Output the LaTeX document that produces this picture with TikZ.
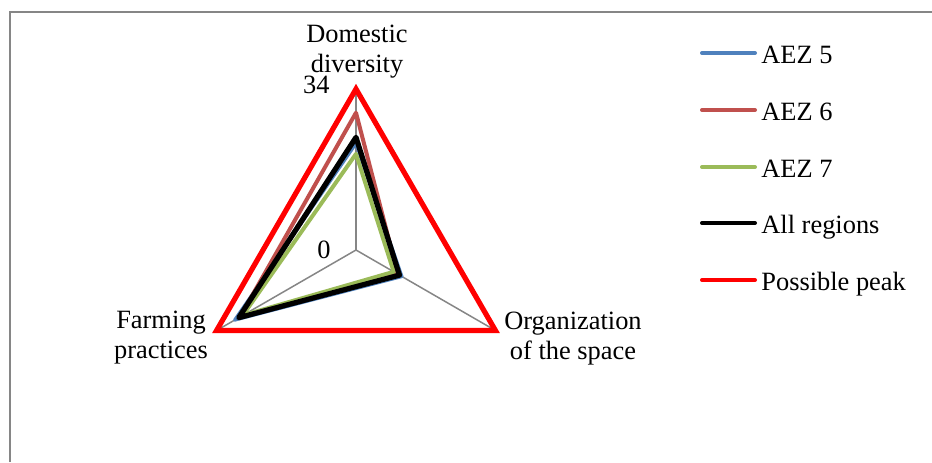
\documentclass[tikz,border=0pt]{standalone}
\usepackage{fontspec}
\setmainfont{Liberation Serif}
\usetikzlibrary{positioning}
\definecolor{aezblue}{HTML}{4F81BD}
\definecolor{aezbrown}{HTML}{C0504D}
\definecolor{aezgreen}{HTML}{9BBB59}
\definecolor{gridgray}{HTML}{868686}

\begin{document}
\begin{tikzpicture}[x=0.5pt,y=-0.5pt]
		\tikzset{lbl/.style={font=\fontsize{13.2}{15}\selectfont,inner sep=0pt,align=center}}
		\tikzset{axisline/.style={draw=gridgray,line width=0.75pt}}
		\tikzset{serie/.style={line width=2pt,line join=round,line cap=round}}
		\tikzset{zoneA/.style={serie,draw=aezblue,line width=1.6pt},
			zoneB/.style={serie,draw=aezbrown},
			zoneC/.style={serie,draw=aezgreen},
			allreg/.style={serie,draw=black,line width=2.6pt},
			peak/.style={serie,draw=red,line width=2.6pt,line join=miter}}
		\useasboundingbox (0,0) rectangle (932,462);
		% frame of the chart area
		\draw[draw=gridgray,line width=1pt] (10,462) -- (10,12) -- (932,12);
		% radar
		\begin{scope}[shift={(356,250)},x=0.5pt,y=0.5pt]
			\def\k{4.735}
			\coordinate (c) at (0,0);
			\coordinate (dom) at (90:161);
			\coordinate (farm) at (210:161);
			\coordinate (org) at (-30:161);
			\draw[axisline] (c) -- (dom);
			\draw[axisline] (c) -- (farm);
			\draw[axisline] (c) -- (org);
			\draw[zoneA] (90:{22.5*\k}) -- (210:{29.6*\k}) -- (-30:{11.2*\k}) -- cycle;
			\draw[zoneB] (90:{29*\k}) -- (210:{28.3*\k}) -- (-30:{10.2*\k}) -- cycle;
			\draw[zoneC] (90:{20.3*\k}) -- (210:{27.6*\k}) -- (-30:{9.2*\k}) -- cycle;
			\draw[allreg] (90:{23.8*\k}) -- (210:{28.6*\k}) -- (-30:{10.6*\k}) -- cycle;
			\draw[peak] (dom) -- (farm) -- (org) -- cycle;
		\end{scope}
		% axis texts (base = last line)
		\node[lbl,anchor=base] (domlbl) at (357,72) {Domestic\\diversity};
		\node[lbl,anchor=base] (farmlbl) at (161,358) {Farming\\practices};
		\node[lbl,anchor=base] (orglbl) at (573,359) {Organization\\of the space};
		\node[lbl,anchor=base east] (tmax) at (330,93) {34};
		\node[lbl,anchor=base east] (tmin) at (331,258) {0};
		% legend
		\foreach \y/\st/\txt [count=\i] in {53/zoneA/AEZ 5,110/zoneB/AEZ 6,167/zoneC/AEZ 7,223/allreg/All regions,280/peak/Possible peak}{
			\coordinate (l\i a) at (702,\y);
			\coordinate (l\i b) at (755,\y);
			\draw[\st,line width=2pt,line cap=round] (l\i a) -- (l\i b);
			\node[lbl,anchor=base west] (leg\i) at (761,\y+10) {\txt};
		}
	\end{tikzpicture}
\end{document}
